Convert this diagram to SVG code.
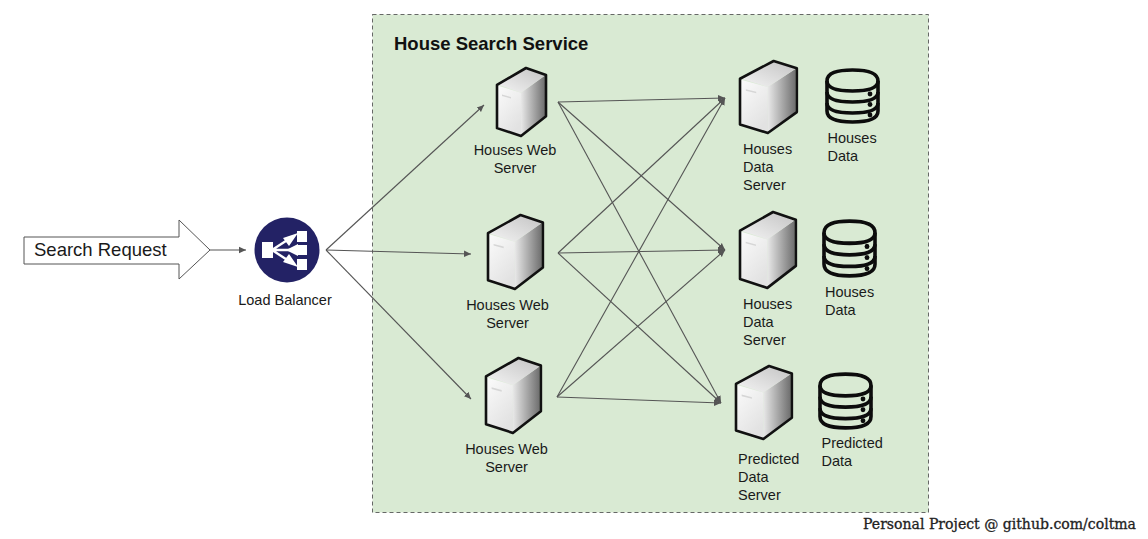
<svg xmlns="http://www.w3.org/2000/svg" width="1148" height="539" viewBox="0 0 1148 539">
<style>
text{font-family:"Liberation Sans",Arial,sans-serif;font-size:14.5px;fill:#1a1a1a}
.c{stroke:#555;stroke-width:1.1;fill:none;marker-end:url(#a)}
.m{text-anchor:middle}
.box{stroke:#111;stroke-width:2.6;stroke-linejoin:round;vector-effect:non-scaling-stroke}
.db{fill:none;stroke:#0c0c0c;stroke-width:3.6;vector-effect:non-scaling-stroke}
</style>
<defs>
<marker id="a" markerUnits="userSpaceOnUse" markerWidth="8" markerHeight="8" refX="7" refY="4" orient="auto"><path d="M0 0.8L7 4L0 7.2z" fill="#555"/></marker>
<linearGradient id="f" x1="0" y1="0" x2="0.6" y2="1"><stop offset="0" stop-color="#fbfbfb"/><stop offset="1" stop-color="#e2e2e2"/></linearGradient>
<linearGradient id="s" x1="0" y1="0" x2="1" y2="0"><stop offset="0" stop-color="#e8e8e8"/><stop offset="1" stop-color="#6e6e6e"/></linearGradient>
<linearGradient id="t" x1="0" y1="1" x2="1" y2="0"><stop offset="0" stop-color="#f4f4f4"/><stop offset="1" stop-color="#c4c4c4"/></linearGradient>
<symbol id="srv" viewBox="0 0 50 70" overflow="visible" preserveAspectRatio="none">
<path d="M24 25L48 7.500V49L24 68Z" fill="url(#s)"/>
<path d="M1 17L29 1L48 7.500L24 25Z" fill="url(#t)"/>
<path d="M1 18L24 25V68L1 60.500Z" fill="url(#f)"/>
<path d="M5 27L14 29.500V31L5 28.500Z" fill="#d6d6d6"/>
<path class="box" d="M0 17L29 0L49 7V49L24 69L0 61Z" fill="none"/>
</symbol>
<symbol id="db" viewBox="0 0 55 56" overflow="visible" preserveAspectRatio="none">
<g class="db">
<path d="M2 13C2 5 12 2 27.500 2S53 5 53 13V43C53 51 43 54 27.500 54S2 51 2 43Z"/>
<path d="M2 13C2 20 12 23 27.500 23S53 20 53 13"/>
<path d="M2 24C2 31 12 34 27.500 34S53 31 53 24"/>
<path d="M2 35C2 42 12 45 27.500 45S53 42 53 35"/>
</g>
<circle cx="45" cy="26" r="2.400" fill="#0c0c0c"/><circle cx="45" cy="36.500" r="2.400" fill="#0c0c0c"/><circle cx="45" cy="47" r="2.400" fill="#0c0c0c"/>
</symbol>
</defs>
<rect width="1148" height="539" fill="#fff"/>
<g id="service">
<rect x="372.500" y="14.500" width="556" height="498" fill="#d9ead3" stroke="#444" stroke-width="0.8" stroke-dasharray="4 3"/>
<text x="394" y="50" style="font-size:18.500px;font-weight:700;fill:#111">House Search Service</text>
</g>
<g id="connectors">
<path class="c" d="M209 250H246"/>
<path class="c" d="M326 250L484 105"/><path class="c" d="M326 250L471 254"/><path class="c" d="M326 250L471 399"/>
<path class="c" d="M558 102L725 98"/><path class="c" d="M558 102L725 250"/><path class="c" d="M558 102L721 403"/>
<path class="c" d="M558 253L725 98"/><path class="c" d="M558 253L725 250"/><path class="c" d="M558 253L721 403"/>
<path class="c" d="M557 397L725 98"/><path class="c" d="M557 397L725 250"/><path class="c" d="M557 397L721 403"/>
</g>
<g id="search-request">
<path d="M24 237H179V220L210 250L179 279V264H24Z" fill="#fff" stroke="#555" stroke-width="1"/>
<text x="34" y="256" style="font-size:18.500px">Search Request</text>
</g>
<g id="load-balancer">
<circle cx="287" cy="250" r="32.500" fill="#232265"/>
<g fill="#fff" stroke="#fff">
<rect x="262" y="242" width="11" height="16" stroke="none"/>
<rect x="297" y="231" width="10" height="11" stroke="none"/>
<rect x="297" y="245" width="10" height="10" stroke="none"/>
<rect x="297" y="259" width="10" height="11" stroke="none"/>
<path d="M272 250L292 237M272 250H292M272 250L292 263" stroke-width="2.400" fill="none"/>
<path d="M298 233L283 238L289 246Z M298 244V256L286 250Z M298 267L283 262L289 254Z" stroke="none"/>
</g>
<text x="285" y="305" class="m">Load Balancer</text>
</g>
<g id="web-server-1"><use href="#srv" x="497" y="68" width="50" height="69"/><text class="m"><tspan x="515" y="155">Houses Web</tspan><tspan x="515" y="173">Server</tspan></text></g>
<g id="web-server-2"><use href="#srv" x="488" y="215" width="56" height="75"/><text class="m"><tspan x="507.500" y="310">Houses Web</tspan><tspan x="507.500" y="328">Server</tspan></text></g>
<g id="web-server-3"><use href="#srv" x="486" y="358" width="56" height="76"/><text class="m"><tspan x="506.500" y="454">Houses Web</tspan><tspan x="506.500" y="472">Server</tspan></text></g>
<g id="data-server-1"><use href="#srv" x="740" y="61" width="58" height="73"/><text><tspan x="743" y="154">Houses</tspan><tspan x="743" y="172">Data</tspan><tspan x="743" y="190">Server</tspan></text></g>
<g id="data-server-2"><use href="#srv" x="740" y="212" width="57" height="77"/><text><tspan x="743" y="309">Houses</tspan><tspan x="743" y="327">Data</tspan><tspan x="743" y="345">Server</tspan></text></g>
<g id="data-server-3"><use href="#srv" x="736" y="366" width="57" height="74"/><text><tspan x="738" y="464">Predicted</tspan><tspan x="738" y="482">Data</tspan><tspan x="738" y="500">Server</tspan></text></g>
<g id="data-store-1"><use href="#db" x="825" y="68" width="55" height="56"/><text><tspan x="827.500" y="143">Houses</tspan><tspan x="827.500" y="161">Data</tspan></text></g>
<g id="data-store-2"><use href="#db" x="822" y="219" width="55" height="59"/><text><tspan x="825" y="297">Houses</tspan><tspan x="825" y="315">Data</tspan></text></g>
<g id="data-store-3"><use href="#db" x="818" y="372" width="55" height="58"/><text><tspan x="821.500" y="448">Predicted</tspan><tspan x="821.500" y="466">Data</tspan></text></g>
<text id="credit" x="863" y="529" style="font-family:'DejaVu Serif',serif;font-size:14px;fill:#222;stroke:#222;stroke-width:0.3" textLength="273" lengthAdjust="spacingAndGlyphs">Personal Project @ github.com/coltma</text>
</svg>
